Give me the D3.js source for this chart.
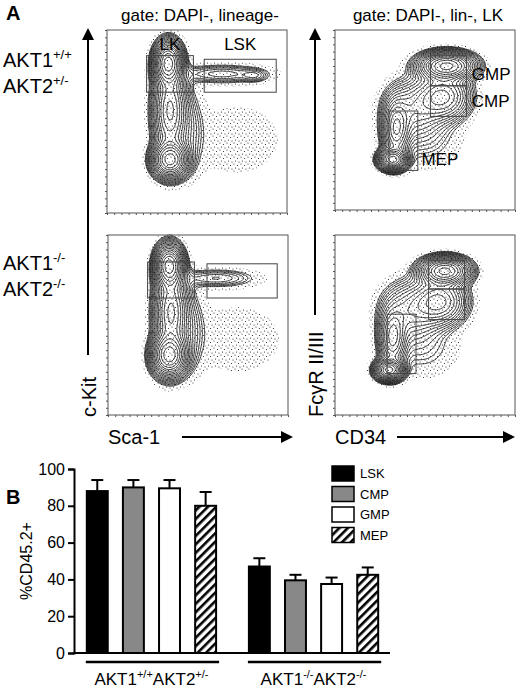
<!DOCTYPE html>
<html><head><meta charset="utf-8">
<script src="https://cdn.jsdelivr.net/npm/d3@7"></script>
<style>body{margin:0;background:#fff}svg{font-family:"Liberation Sans",Arial,sans-serif}</style>
</head><body>
<svg width="520" height="688"></svg>
<script>
// flow populations: [x, y, sx, sy, weight] in 0-100 plot units
const popLskWt=[[34,82,4,6,1],[35,29,5,5,1],[35,56,5,14,0.5],[64,76,15,3,0.09],[82,75,4,2,0.05],[46,45,5,14,0.05],[72,40,18,14,0.018]]
const popLskKo=[[34,83,4,6,1],[34,33,5,6,1],[35,57,5,14,0.5],[60,76,13,3,0.08],[46,47,5,14,0.05],[72,42,18,14,0.018]]
const popMyWt=[[32,28,4,3,1],[34,45,4,9,0.45],[62,80,8,4,1],[60,63,8,7,0.4],[44,56,9,9,0.2],[50,40,12,10,0.04]]
const popMyKo=[[30,25,4,3,1],[32,43,4,9,0.4],[61,80,7,4,1],[58,63,8,7,0.4],[42,58,9,9,0.2],[48,38,12,10,0.04]]
// gates [x0,x1,y0,y1,label] in plot units
const gatesL=[[22,48,66,86,"LK"],[54,94,66,84,"LSK"]]
const gatesLko=[[22,48,65,85,""],[55,94,65,84,""]]
const gatesR=[[53,73,69,86,"GMP"],[53,73,52,69,"CMP"],[30,46,22,55,"MEP"]]
const gatesRko=[[52,72,70,86,""],[52,72,53,70,""],[29,45,23,56,""]]
// bar chart
const groups=["wt","ko"]
const cells=["LSK","CMP","GMP","MEP"]
const means=[[88,90,89.5,80],[47,39.5,37.5,42.5]]
const errs=[[6,4,4.5,7.5],[4.5,3,3.5,4]]
const yTicks=[0,20,40,60,80,100]

const svg=d3.select("svg")
const defs=svg.append("defs")
defs.append("pattern").attr("id","hatch").attr("patternUnits","userSpaceOnUse").attr("width",6).attr("height",6)
.attr("patternTransform","rotate(45)")
.append("rect").attr("x",0).attr("y",0).attr("width",2.6).attr("height",6).attr("fill","#000")
const dots=defs.append("pattern").attr("id","dots").attr("patternUnits","userSpaceOnUse").attr("width",7).attr("height",7)
dots.selectAll("circle").data([[1,1],[4.5,2.5],[2.5,5],[6,6]]).join("circle").attr("cx",d=>d[0]).attr("cy",d=>d[1]).attr("r",0.6).attr("fill","#222")

const txt=(x,y,s,size,anchor,weight)=>svg.append("text").attr("x",x).attr("y",y).attr("font-size",size)
.attr("text-anchor",anchor||"start").attr("font-weight",weight||"normal").text(s)

const flow=(x0,y0,w,h,pops,gates,labelPos)=>{
const g=svg.append("g").attr("transform",`translate(${x0},${y0})`)
const sx=d3.scaleLinear().domain([0,100]).range([0,w])
const sy=d3.scaleLinear().domain([0,100]).range([h,0])
const n=100,vals=new Array(n*n)
for(let j=0;j<n;j++)for(let i=0;i<n;i++){
let px=(i+0.5)/n*100,py=(1-(j+0.5)/n)*100,v=0
pops.forEach(p=>{v+=p[4]*Math.exp(-((px-p[0])**2/(2*p[2]**2)+(py-p[1])**2/(2*p[3]**2)))})
vals[j*n+i]=v}
const proj=d3.geoTransform({point(x,y){this.stream.point(x*w/n,y*h/n)}})
const geoS=d3.geoPath(proj)
g.append("g").selectAll("path").data(d3.contours().size([n,n]).thresholds([0.008])(vals)).join("path")
.attr("d",geoS).attr("fill","url(#dots)")
const th=d3.range(0,17).map(k=>0.92*Math.pow(0.8,k))
g.append("g").selectAll("path").data(d3.contours().size([n,n]).thresholds(th)(vals)).join("path")
.attr("d",geoS).attr("fill","none").attr("stroke","#111").attr("stroke-width",0.8)
g.append("rect").attr("width",w).attr("height",h).attr("fill","none").attr("stroke","#555").attr("stroke-width",1)
const ax=d3.axisBottom(sx).tickValues(d3.range(0,101,4)).tickSize(2).tickFormat("")
g.append("g").attr("transform",`translate(0,${h})`).call(ax).call(a=>a.select(".domain").remove()).selectAll("line").attr("stroke","#555")
const ay=d3.axisLeft(sy).tickValues(d3.range(0,101,4)).tickSize(2).tickFormat("")
g.append("g").call(ay).call(a=>a.select(".domain").remove()).selectAll("line").attr("stroke","#555")
g.selectAll(".gate").data(gates).join("rect").attr("x",d=>sx(d[0])).attr("y",d=>sy(d[3]))
.attr("width",d=>sx(d[1])-sx(d[0])).attr("height",d=>sy(d[2])-sy(d[3])).attr("fill","none").attr("stroke","#444")
gates.forEach((d,i)=>{if(!d[4])return
const p=labelPos[i]
g.append("text").attr("x",sx(p[0])).attr("y",sy(p[1])).attr("font-size",17).attr("text-anchor",p[2]).text(d[4])})
}
flow(107,30,180,183,popLskWt,gatesL,[[35,89,"middle"],[74,89,"middle"]])
flow(108,235,180,180,popLskKo,gatesLko,[])
flow(335,30,180,180,popMyWt,gatesR,[[76,72,"start"],[76,57,"start"],[48,25,"start"]])
flow(335,235,180,180,popMyKo,gatesRko,[])

const arrow=(x1,y1,x2,y2)=>{
svg.append("line").attr("x1",x1).attr("y1",y1).attr("x2",x2).attr("y2",y2).attr("stroke","#000").attr("stroke-width",2)
const a=Math.atan2(y2-y1,x2-x1),L=12,W=6
svg.append("path").attr("d",`M${x2+Math.cos(a)*L},${y2+Math.sin(a)*L}L${x2-Math.sin(a)*W},${y2+Math.cos(a)*W}L${x2+Math.sin(a)*W},${y2-Math.cos(a)*W}Z`)}
arrow(88,355,88,40); arrow(315,315,315,40)
arrow(182,437,281,437); arrow(397,437,503,437)
txt(6,20,"A",20,"start","bold")
txt(200,21,"gate: DAPI-, lineage-",17,"middle")
txt(428,21,"gate: DAPI-, lin-, LK",17,"middle")
const sup=(x,y,base,s)=>{const t=txt(x,y,"",20);t.append("tspan").text(base);t.append("tspan").attr("font-size",13).attr("dy",-8).text(s)}
sup(3,67,"AKT1","+/+");sup(3,93,"AKT2","+/-");sup(3,270,"AKT1","-/-");sup(3,296,"AKT2","-/-")
svg.append("text").attr("transform","translate(96,417) rotate(-90)").attr("font-size",20).text("c-Kit")
svg.append("text").attr("transform","translate(323,417) rotate(-90)").attr("font-size",20).text("FcγR II/III")
txt(108,444,"Sca-1",20); txt(335,444,"CD34",20)

// panel B
txt(6,504,"B",20,"start","bold")
const y=d3.scaleLinear().domain([0,100]).range([653,469])
const x0=d3.scaleBand().domain(groups).range([85,380]).paddingInner(0.18).paddingOuter(0)
const x1=d3.scaleBand().domain(cells).range([0,x0.bandwidth()]).paddingInner(0.42).paddingOuter(0.05)
const fills={LSK:"#000",CMP:"#888",GMP:"#fff",MEP:"url(#hatch)"}
const bg=svg.append("g")
groups.forEach((gk,gi)=>{
cells.forEach((c,ci)=>{
const bx=x0(gk)+x1(c),bw=x1.bandwidth(),m=means[gi][ci],e=errs[gi][ci]
bg.append("line").attr("x1",bx+bw/2).attr("x2",bx+bw/2).attr("y1",y(m)).attr("y2",y(m+e)).attr("stroke","#000").attr("stroke-width",2)
bg.append("line").attr("x1",bx+bw/2-6).attr("x2",bx+bw/2+6).attr("y1",y(m+e)).attr("y2",y(m+e)).attr("stroke","#000").attr("stroke-width",2)
if(c==="MEP")bg.append("rect").attr("x",bx).attr("y",y(m)).attr("width",bw).attr("height",y(0)-y(m)).attr("fill","#fff")
bg.append("rect").attr("x",bx).attr("y",y(m)).attr("width",bw).attr("height",y(0)-y(m)).attr("fill",fills[c]).attr("stroke","#000").attr("stroke-width",2)
})
bg.append("line").attr("x1",x0(gk)+x1(cells[0])-1).attr("x2",x0(gk)+x1(cells[3])+x1.bandwidth()+3).attr("y1",662).attr("y2",662).attr("stroke","#000").attr("stroke-width",2.5)
})
const ya=svg.append("g").attr("transform","translate(74,0)").call(d3.axisLeft(y).tickValues(yTicks).tickSize(6))
ya.selectAll("text").attr("font-size",16).attr("font-family","Liberation Sans").attr("fill","#000")
ya.selectAll("line,path").attr("stroke","#000").attr("stroke-width",2)
svg.append("line").attr("x1",73).attr("x2",390).attr("y1",y(0)).attr("y2",y(0)).attr("stroke","#000").attr("stroke-width",2)
svg.append("text").attr("transform","translate(32,561) rotate(-90)").attr("font-size",16).attr("text-anchor","middle").text("%CD45.2+")
const gl=(x,yy,b1,s1,b2,s2)=>{const t=txt(x,yy,"",17,"middle");t.append("tspan").text(b1);t.append("tspan").attr("font-size",11).attr("dy",-7).text(s1)
t.append("tspan").attr("dy",7).text(b2);t.append("tspan").attr("font-size",11).attr("dy",-7).text(s2)}
gl(x0("wt")+x0.bandwidth()/2,685,"AKT1","+/+","AKT2","+/-")
gl(x0("ko")+x0.bandwidth()/2,685,"AKT1","-/-","AKT2","-/-")
const lg=svg.append("g")
cells.forEach((c,i)=>{
const yy=466+i*20.5
if(c==="MEP")lg.append("rect").attr("x",332).attr("y",yy).attr("width",22).attr("height",15).attr("fill","#fff")
lg.append("rect").attr("x",332).attr("y",yy).attr("width",22).attr("height",15).attr("fill",fills[c]).attr("stroke","#000").attr("stroke-width",1.5)
lg.append("text").attr("x",360).attr("y",yy+12).attr("font-size",13).text(c)})
</script>
</body></html>
